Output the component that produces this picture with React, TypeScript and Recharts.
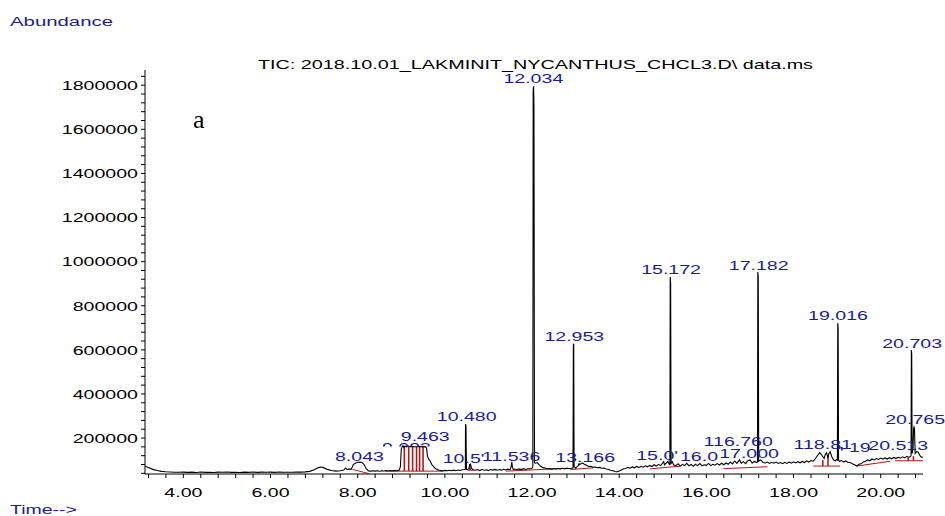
import React from 'react';
import { LineChart, Line, XAxis, YAxis, ReferenceDot, ReferenceLine } from 'recharts';

const xTicks = [
  3.2, 3.6, 4, 4.4, 4.8, 5.2, 5.6, 6, 6.4, 6.8, 7.2, 7.6, 8, 8.4, 8.8, 9.2, 9.6, 10, 10.4, 10.8, 11.2, 11.6, 12,
  12.4, 12.8, 13.2, 13.6, 14, 14.4, 14.8, 15.2, 15.6, 16, 16.4, 16.8, 17.2, 17.6, 18, 18.4, 18.8, 19.2, 19.6, 20,
  20.4, 20.8,
];
const xLabelTicks = [4, 6, 8, 10, 12, 14, 16, 18, 20];

const yTicks = [
  40000, 80000, 120000, 160000, 200000, 240000, 280000, 320000, 360000, 400000, 440000, 480000, 520000, 560000,
  600000, 640000, 680000, 720000, 760000, 800000, 840000, 880000, 920000, 960000, 1000000, 1040000, 1080000,
  1120000, 1160000, 1200000, 1240000, 1280000, 1320000, 1360000, 1400000, 1440000, 1480000, 1520000, 1560000,
  1600000, 1640000, 1680000, 1720000, 1760000, 1800000, 1840000,
];
const yLabelTicks = [200000, 400000, 600000, 800000, 1000000, 1200000, 1400000, 1600000, 1800000];

// TIC trace: [retention time (min), abundance]
const tic: [number, number][] = [
  [3.12, 72000], [3.2, 66000], [3.3, 58000], [3.4, 52500], [3.5, 49000], [3.6, 47000], [3.7, 46000], [3.8, 45200],
  [3.9, 44800], [4.0, 45600], [4.1, 44200], [4.2, 45300], [4.3, 44000], [4.4, 45800], [4.5, 44400], [4.6, 45100],
  [4.7, 43900], [4.8, 45400], [4.9, 44600], [5.0, 45900], [5.1, 44300], [5.2, 45000], [5.3, 44100], [5.4, 45700],
  [5.5, 44500], [5.6, 46000], [5.7, 44200], [5.8, 45300], [5.9, 44700], [6.0, 45500], [6.1, 44400], [6.2, 45900],
  [6.3, 44800], [6.4, 45200], [6.5, 44600], [6.6, 46100], [6.7, 45300], [6.8, 46500],
  [6.9, 49000], [7.0, 56000], [7.1, 66000], [7.15, 69000], [7.2, 67000], [7.3, 58000], [7.4, 53000], [7.5, 50000],
  [7.6, 51500], [7.68, 55000], [7.72, 64000], [7.76, 57000], [7.8, 60000], [7.85, 58000],
  [7.9, 80000], [7.95, 87000], [8.0, 90000], [8.05, 91000], [8.1, 89000], [8.15, 79000], [8.2, 60000], [8.25, 51000],
  [8.3, 50000], [8.35, 52000], [8.4, 50000], [8.45, 51500], [8.5, 49500], [8.55, 52000], [8.6, 50500],
  [8.65, 52500], [8.7, 50500], [8.75, 52500], [8.8, 51000], [8.85, 53000], [8.9, 52000], [8.95, 54000],
  [8.98, 70000], [9.0, 150000], [9.02, 161000], [9.04, 166000], [9.06, 157000], [9.08, 163000], [9.12, 160000],
  [9.16, 164000], [9.2, 161000], [9.25, 162000], [9.3, 161000], [9.35, 160500], [9.4, 161500], [9.45, 161000],
  [9.5, 160000], [9.55, 161000], [9.58, 155000], [9.6, 118000], [9.63, 104000], [9.66, 97000], [9.7, 80000],
  [9.75, 68000], [9.8, 60000], [9.85, 55000], [9.9, 53000], [9.95, 51000], [10.0, 53500], [10.05, 51500],
  [10.1, 54000], [10.15, 52000], [10.2, 54500], [10.25, 52000], [10.3, 55000], [10.35, 53000], [10.4, 56000],
  [10.47, 57000],
  [10.474, 263000], [10.484, 255000], [10.495, 58000], [10.55, 60000], [10.57, 80000], [10.59, 82000],
  [10.61, 62000], [10.65, 56000], [10.7, 54000], [10.75, 57500], [10.8, 52500], [10.85, 57000], [10.9, 54000],
  [10.95, 56000], [11.0, 52500], [11.05, 57500], [11.1, 54500], [11.15, 58000], [11.2, 54000], [11.25, 57000],
  [11.3, 54500], [11.35, 58500], [11.4, 55500], [11.45, 59000], [11.5, 56500], [11.52, 70000], [11.536, 92000],
  [11.55, 68000], [11.57, 57000], [11.6, 59500], [11.65, 56500], [11.7, 60000], [11.75, 57000], [11.8, 61000],
  [11.85, 57500], [11.9, 60500], [11.95, 61000], [12.0, 63000],
  [12.018, 70000], [12.026, 1780000], [12.036, 1795000], [12.044, 1700000], [12.056, 88000], [12.08, 86000],
  [12.12, 89000], [12.16, 80000], [12.2, 72000], [12.25, 66000], [12.3, 64000], [12.35, 61000], [12.4, 61500],
  [12.45, 59000], [12.5, 62000], [12.55, 59500], [12.6, 62500], [12.65, 60000], [12.7, 63000], [12.75, 60500],
  [12.8, 63500], [12.85, 61000], [12.9, 63000], [12.94, 64000],
  [12.948, 620000], [12.956, 628000], [12.965, 70000], [12.98, 68000], [13.0, 65000], [13.05, 72000],
  [13.08, 84000], [13.1, 79000], [13.13, 86000], [13.166, 87000], [13.2, 81000], [13.25, 77000], [13.3, 71000],
  [13.35, 72000], [13.4, 67500], [13.45, 69000], [13.5, 65500], [13.55, 67000], [13.6, 63000], [13.65, 64000],
  [13.7, 60000], [13.75, 58500], [13.8, 54000], [13.85, 52500], [13.9, 48000], [13.95, 47000], [14.0, 51000],
  [14.05, 55000], [14.1, 61000], [14.15, 62000], [14.2, 67000], [14.25, 63500], [14.3, 69000], [14.35, 65000],
  [14.4, 71000], [14.45, 66000], [14.5, 72000], [14.55, 68000], [14.6, 74000], [14.65, 69500], [14.7, 76000],
  [14.75, 71000], [14.8, 79000], [14.85, 73000], [14.9, 81000], [14.95, 75000], [15.0, 88000], [15.02, 93000],
  [15.04, 78000], [15.08, 87000], [15.12, 94000], [15.15, 80000], [15.163, 82000],
  [15.17, 930000], [15.18, 900000], [15.19, 85000], [15.22, 92000], [15.25, 78000], [15.3, 75000],
  [15.35, 83000], [15.4, 73000], [15.45, 81000], [15.5, 75000], [15.55, 85000], [15.6, 74000], [15.65, 80000],
  [15.7, 72000], [15.75, 81000], [15.8, 75000], [15.85, 84000], [15.9, 74000], [15.95, 79000], [16.0, 76000],
  [16.05, 85000], [16.1, 75000], [16.15, 81000], [16.2, 77000], [16.25, 84000], [16.3, 78000], [16.35, 86000],
  [16.4, 79000], [16.45, 87000], [16.5, 81000], [16.55, 91000], [16.6, 83000], [16.65, 96000], [16.7, 85000],
  [16.76, 101000], [16.8, 86000], [16.85, 93000], [16.9, 84000], [16.95, 97000], [17.0, 101000], [17.05, 87000],
  [17.1, 94000], [17.15, 89000], [17.173, 92000],
  [17.18, 953000], [17.19, 930000], [17.2, 95000], [17.25, 101000], [17.3, 89000], [17.35, 87000],
  [17.4, 91000], [17.45, 85000], [17.5, 90000], [17.55, 86000], [17.6, 91000], [17.65, 85000], [17.7, 89000],
  [17.75, 84000], [17.8, 90000], [17.85, 85000], [17.9, 91000], [17.95, 86000], [18.0, 92000], [18.05, 87000],
  [18.1, 93000], [18.15, 88000], [18.2, 94000], [18.25, 89000], [18.3, 96000], [18.35, 91000], [18.4, 98000],
  [18.45, 95000], [18.5, 106000], [18.55, 121000], [18.6, 134000], [18.65, 122000], [18.7, 107000],
  [18.73, 126000], [18.76, 133000], [18.79, 110000], [18.81, 129000], [18.84, 138000], [18.88, 114000],
  [18.92, 100000], [18.96, 97000], [18.99, 103000], [19.006, 100000],
  [19.014, 721000], [19.023, 700000], [19.032, 100000], [19.06, 94000], [19.1, 99000], [19.15, 91000],
  [19.2, 96000], [19.25, 89000], [19.3, 89000], [19.35, 83000], [19.4, 79000], [19.45, 73000], [19.5, 81000],
  [19.55, 83000], [19.6, 91000], [19.65, 95000], [19.7, 101000], [19.75, 97000], [19.8, 105000], [19.85, 101000],
  [19.9, 107000], [19.95, 103000], [20.0, 109000], [20.05, 104000], [20.1, 110000], [20.15, 105000],
  [20.2, 111000], [20.25, 106000], [20.3, 112000], [20.35, 107000], [20.4, 113000], [20.45, 109000],
  [20.5, 115000], [20.55, 110000], [20.6, 117000], [20.65, 112000], [20.69, 118000], [20.696, 120000],
  [20.703, 599000], [20.711, 580000], [20.72, 130000], [20.74, 150000], [20.755, 245000], [20.765, 250000],
  [20.775, 240000], [20.79, 130000], [20.82, 138000], [20.86, 136000], [20.9, 120000], [20.94, 112000],
  [20.97, 114000],
];

// peak labels as they show on the plot (some are partly hidden by neighbours)
const peakText = [
  '8.043', '9.463', '9.093', '10.480', "10.5'", '11.536', '12.034', '12.953', '13.166', "15.0'", '15.172',
  '16.0', '116.760', '17.000', '17.182', '118.81', '19.016', '1', '19', '20.513', '20.703', '20.765',
];
const peakTime = [
  8.04, 9.55, 9.12, 10.5, 10.43, 11.52, 12.03, 12.97, 13.22, 14.87, 15.19, 15.83, 16.73, 16.98, 17.2, 18.67,
  19.02, 19.1, 19.52, 20.4, 20.72, 20.79,
];
const peakTop = [
  96000, 187000, 137000, 277000, 87000, 96000, 1810000, 640000, 91000, 100000, 944000, 96000, 164000, 110000,
  962000, 150000, 735000, 119000, 137000, 146000, 608000, 264000,
];
// labels whose lower part is hidden in the print
const peakCut = ['9.093', '1'];

// integration baselines [t1, v1, t2, v2]
const baselines: [number, number, number, number][] = [
  [7.88, 58000, 8.25, 39000],
  [8.63, 50000, 9.96, 50000],
  [10.52, 54000, 10.66, 54000],
  [11.4, 50000, 12.7, 62000],
  [12.88, 57000, 13.4, 65000],
  [14.71, 60000, 15.24, 70000],
  [15.24, 70000, 15.4, 72000],
  [16.39, 61000, 17.4, 70000],
  [18.45, 73000, 19.07, 73000],
  [19.45, 73000, 20.22, 95000],
  [20.33, 97000, 20.97, 97000],
];
// integration drop lines [t, low, high]
const drops: [number, number, number][] = [
  [9.07, 50000, 161000], [9.17, 50000, 161000], [9.26, 50000, 161000], [9.35, 50000, 161000],
  [9.42, 50000, 161000], [9.5, 50000, 161000], [10.58, 54000, 80000], [13.0, 59000, 66000],
  [18.67, 73000, 100000], [18.79, 73000, 120000], [20.63, 97000, 112000], [20.75, 97000, 118000],
];

const data = tic.map(([t, v]) => ({ t, v }));

const FONT = '"Liberation Sans", Arial, sans-serif';
const FS = 13.5;
const SX = 1.45;
const BLUE = '#1c1c92';
const RED = '#b01818';

function textWidth(s: string) {
  let w = 0;
  for (const c of s) w += c === '.' ? 0.278 : c === "'" ? 0.191 : 0.556;
  return w * FS * SX;
}

function Stretch({ x, y, anchor, fill, children, clip }: any) {
  return (
    <text
      transform={`translate(${x},${y}) scale(${SX},1)`}
      textAnchor={anchor}
      fontSize={FS}
      fontFamily={FONT}
      fill={fill}
      clipPath={clip}
    >
      {children}
    </text>
  );
}

function PeakLabel({ cx, cy, text, index }: any) {
  const cut = peakCut.includes(text);
  const w = textWidth(text);
  const id = `cut${index}`;
  return (
    <g>
      {cut && (
        <defs>
          <clipPath id={id} clipPathUnits="userSpaceOnUse">
            <rect x={-w} y={-13} width={2 * w} height={7.5} />
          </clipPath>
        </defs>
      )}
      <Stretch x={cx} y={cy} anchor="middle" fill={BLUE} clip={cut ? `url(#${id})` : undefined}>
        {text}
      </Stretch>
    </g>
  );
}

function XTick({ x, y, payload }: any) {
  const v = payload.value;
  if (!xLabelTicks.some((t) => Math.abs(t - v) < 1e-6)) return null;
  return <Stretch x={x} y={y + 9.6} anchor="middle" fill="#000">{v.toFixed(2)}</Stretch>;
}

function YTick({ x, y, payload }: any) {
  const v = payload.value;
  if (!yLabelTicks.includes(v)) return null;
  return <Stretch x={x} y={y + 4.8} anchor="end" fill="#000">{String(v)}</Stretch>;
}

export default function App() {
  return (
    <div style={{ position: 'absolute', left: 0, top: 0, width: 945, height: 516, background: '#fff' }}>
      <LineChart width={945} height={516} data={data} margin={{ top: 70, right: 22, bottom: 0, left: 0 }}>
        <XAxis
          type="number"
          dataKey="t"
          domain={[3.12, 20.97]}
          allowDataOverflow
          ticks={xTicks}
          interval={0}
          height={42}
          tickSize={4}
          tickMargin={9}
          axisLine={{ stroke: '#000' }}
          tickLine={{ stroke: '#000' }}
          tick={<XTick />}
        />
        <YAxis
          type="number"
          domain={[37000, 1869000]}
          allowDataOverflow
          ticks={yTicks}
          interval={0}
          width={145}
          tickSize={4}
          tickMargin={3}
          axisLine={{ stroke: '#000' }}
          tickLine={{ stroke: '#000' }}
          tick={<YTick />}
        />
        {baselines.map(([t1, v1, t2, v2], i) => (
          <ReferenceLine
            key={`b${i}`}
            segment={[{ x: t1, y: v1 }, { x: t2, y: v2 }]}
            stroke={RED}
            strokeWidth={1}
            ifOverflow="visible"
          />
        ))}
        {drops.map(([t, lo, hi], i) => (
          <ReferenceLine
            key={`d${i}`}
            segment={[{ x: t, y: lo }, { x: t, y: hi }]}
            stroke={RED}
            strokeWidth={1.6}
            ifOverflow="visible"
          />
        ))}
        <Line
          type="linear"
          dataKey="v"
          stroke="#000"
          strokeWidth={1.1}
          dot={false}
          activeDot={false}
          isAnimationActive={false}
        />
        {peakText.map((txt, i) => (
          <ReferenceDot
            key={`p${i}`}
            x={peakTime[i]}
            y={peakTop[i]}
            r={0}
            ifOverflow="visible"
            shape={(p: any) => <PeakLabel cx={p.cx} cy={p.cy} text={txt} index={i} />}
          />
        ))}
      </LineChart>
      <svg width={945} height={516} style={{ position: 'absolute', left: 0, top: 0, pointerEvents: 'none' }}>
        <text x={10} y={26} fontSize={FS} fontFamily={FONT} fill={BLUE} textLength={103} lengthAdjust="spacingAndGlyphs">
          Abundance
        </text>
        <text x={258} y={69} fontSize={FS} fontFamily={FONT} fill="#000" textLength={555} lengthAdjust="spacingAndGlyphs">
          {'TIC: 2018.10.01_LAKMINIT_NYCANTHUS_CHCL3.D\\ data.ms'}
        </text>
        <text x={193} y={128} fontSize={26} fontFamily='"Liberation Serif", "Times New Roman", serif' fill="#000">
          a
        </text>
        <text x={10} y={514} fontSize={FS} fontFamily={FONT} fill={BLUE} textLength={67} lengthAdjust="spacingAndGlyphs">
          {'Time-->'}
        </text>
      </svg>
    </div>
  );
}
